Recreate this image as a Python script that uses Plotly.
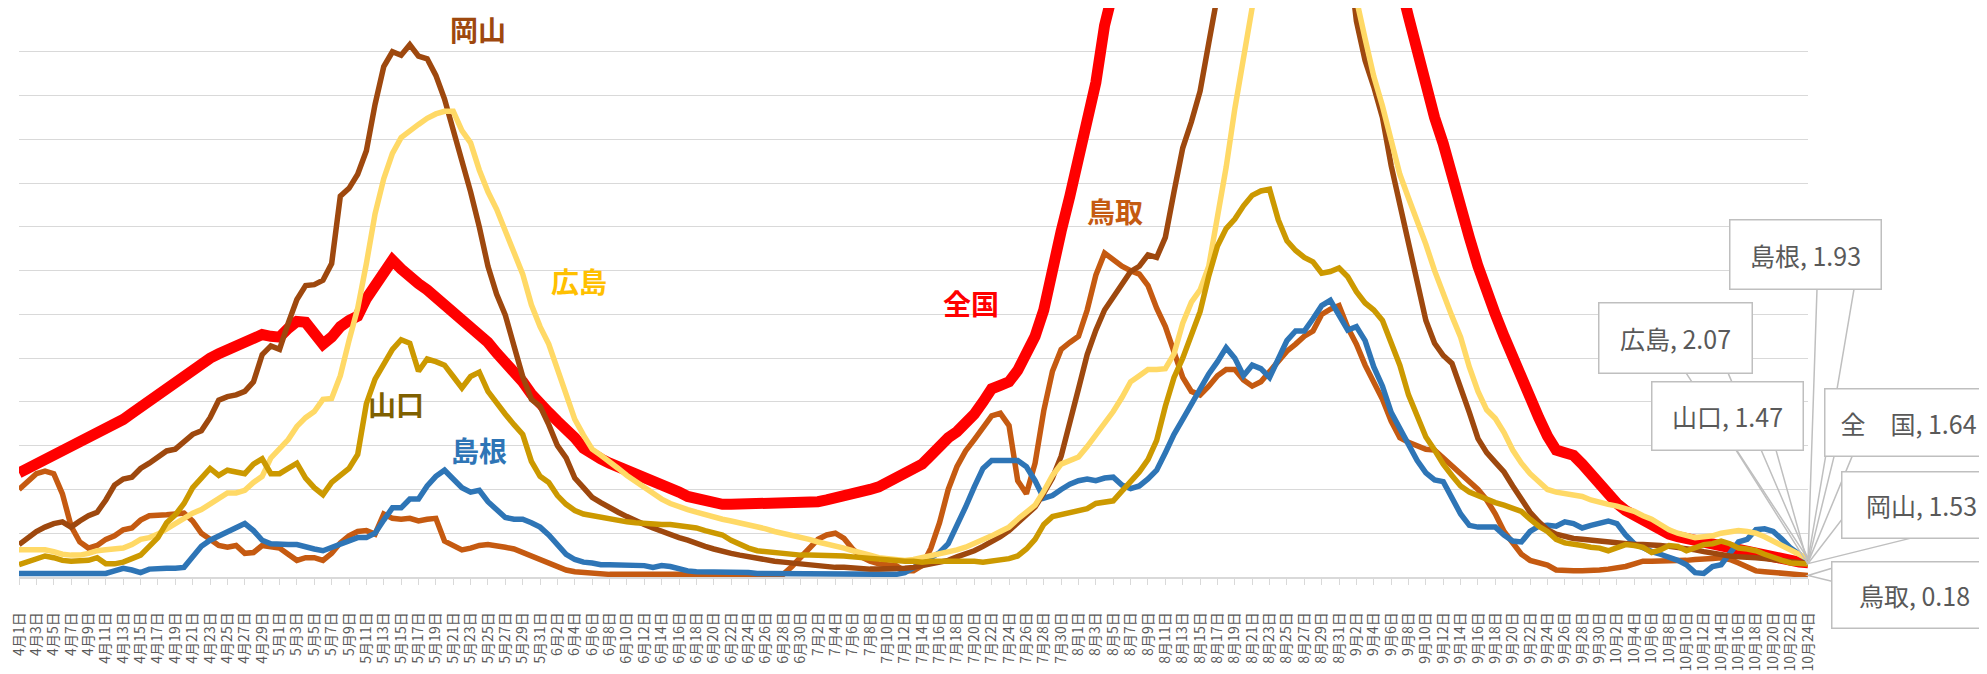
import plotly.graph_objects as go

MONTHS = [(4, 30), (5, 31), (6, 30), (7, 31), (8, 31), (9, 30), (10, 24)]
dates = [f"{m}月{d}日" for m, n in MONTHS for d in range(1, n + 1)]
tick_labels = dates[::2]

zenkoku = [11.9, 12.4, 12.9, 13.5, 13.9, 14.3, 14.8, 15.2, 15.8, 16.5,
           17.0, 17.4, 18.0, 18.7, 19.4, 20.1, 20.9, 21.7, 22.5, 23.1,
           23.8, 24.5, 25.0, 25.5, 26.0, 26.5, 27.0, 27.3, 27.7, 27.5,
           27.4, 28.4, 29.2, 29.1, 28.0, 26.6, 27.4, 28.6, 29.3, 29.8,
           31.8, 33.3, 35.0, 36.2, 35.2, 34.2, 33.5, 32.8, 32.0, 31.1,
           30.1, 29.3, 28.5, 27.6, 26.8, 25.6, 24.6, 23.5, 22.3, 20.9,
           19.7, 18.8, 17.8, 17.0, 15.9, 14.7, 13.9, 13.5, 13.0, 12.6,
           12.2, 11.9, 11.6, 11.1, 10.6, 10.1, 9.7, 9.2, 8.9, 8.6,
           8.4, 8.3, 8.3, 8.3, 8.3, 8.3, 8.3, 8.3, 8.3, 8.4,
           8.4, 8.5, 8.6, 8.8, 9.0, 9.1, 9.3, 9.6, 10.0, 10.3,
           10.8, 11.2, 11.7, 12.3, 12.9, 13.9, 15.0, 15.9, 16.6, 17.4,
           18.6, 20.0, 21.5, 21.9, 22.3, 23.6, 25.5, 27.5, 30.5, 35.5,
           39.5, 43.5, 47.8, 51.5, 56.5, 63.0, 68, 72, 76, 80,
           84, 88, 92, 96, 100, 104, 108, 112, 116, 120,
           123, 126, 129, 131, 133, 134, 134, 133, 131, 128,
           124, 119, 113, 107, 100, 93, 86, 79, 73, 68,
           64.0, 60.0, 56.0, 52.5, 49.5, 45.5, 42.0, 38.8, 35.5, 32.5,
           30.0, 27.5, 25.0, 22.6, 20.3, 18.2, 16.1, 14.5, 14.2, 13.9,
           12.9, 11.7, 10.5, 9.3, 8.4, 7.6, 7.0, 6.4, 5.8, 5.3,
           4.9, 4.6, 4.4, 4.1, 3.8, 3.6, 3.3, 3.1, 2.9, 2.7,
           2.5, 2.3, 2.1, 2.0, 1.8, 1.7, 1.64]

okayama = [3.7, 4.5, 5.2, 5.7, 6.1, 6.3, 5.7, 6.4, 7.0, 7.4,
           8.8, 10.5, 11.2, 11.4, 12.4, 13.0, 13.7, 14.4, 14.6, 15.5,
           16.3, 16.7, 18.2, 20.2, 20.6, 20.8, 21.2, 22.3, 25.4, 26.4,
           26.0, 29.0, 31.7, 33.3, 33.4, 33.9, 35.8, 43.5, 44.4, 46.0,
           48.7, 54.0, 58.3, 60.0, 59.6, 60.8, 59.5, 59.2, 57.3, 54.6,
           51.2, 47.4, 44.0, 40.0, 35.5, 32.3, 29.9, 26.4, 22.9, 20.3,
           19.5, 17.4, 15.0, 13.6, 11.3, 10.2, 9.1, 8.5, 7.9, 7.4,
           6.9, 6.4, 6.0, 5.6, 5.2, 4.8, 4.5, 4.2, 3.8, 3.5,
           3.2, 2.9, 2.7, 2.5, 2.3, 2.1, 1.9, 1.8, 1.7, 1.6,
           1.5, 1.4, 1.2, 1.2, 1.1, 1.1, 1.0, 0.9, 0.9, 0.9,
           0.9, 0.9, 1.0, 1.1, 1.3, 1.5, 1.7, 1.9, 2.3, 2.6,
           3.0, 3.5, 4.0, 4.6, 5.3, 6.2, 7.0, 8.0, 9.6, 11.3,
           13.8, 17.4, 21.5, 25.4, 28.2, 30.5, 32.0, 33.6, 34.9, 35.5,
           36.8, 36.5, 38.8, 44.0, 49.0, 52.0, 55.5, 61.0, 67, 72,
           78, 84, 90, 96, 101, 106, 110, 112, 113, 111,
           105, 95, 84, 72, 63.5, 59.0, 56.0, 52.5, 47.0, 42.5,
           38.0, 33.5, 29.3, 26.7, 25.3, 24.4, 21.8, 18.8, 15.8, 14.2,
           13.1, 12.0, 10.4, 9.0, 7.4, 6.3, 5.4, 4.9, 4.6, 4.4,
           4.3, 4.2, 4.0, 3.9, 3.8, 3.7, 3.7, 3.7, 3.7, 3.6,
           3.5, 3.4, 3.3, 3.1, 2.9, 2.7, 2.5, 2.4, 2.3, 2.3,
           2.2, 2.1, 2.0, 1.9, 1.8, 1.7, 1.53]

hiroshima = [3.1, 3.1, 3.1, 3.1, 2.9, 2.6, 2.5, 2.5, 2.7, 3.0,
             3.1, 3.2, 3.3, 3.7, 4.3, 4.5, 4.9, 5.5, 6.1, 6.7,
             7.3, 7.7, 8.3, 9.0, 9.6, 9.6, 9.9, 10.8, 11.5, 13.6,
             14.6, 15.7, 17.2, 18.2, 18.9, 20.3, 20.4, 23.0, 27.0, 30.7,
             35.8, 41.5, 45.5, 48.4, 50.2, 51.0, 51.7, 52.4, 52.9, 53.2,
             53.2, 51.0, 49.6, 46.5, 44.0, 42.0, 39.5, 36.9, 34.6, 31.1,
             28.6, 26.6, 23.7, 20.8, 18.0, 16.2, 14.6, 13.9, 13.2, 12.4,
             11.6, 10.9, 10.2, 9.5, 8.9, 8.4, 8.0, 7.7, 7.4, 7.1,
             6.9, 6.6, 6.4, 6.2, 5.9, 5.7, 5.5, 5.2, 5.0, 4.8,
             4.5, 4.3, 4.0, 3.8, 3.5, 3.3, 3.0, 2.8, 2.5, 2.2,
             2.1, 2.0, 1.9, 2.0, 2.2, 2.4, 2.6, 2.8, 3.1, 3.4,
             3.8, 4.2, 4.7, 5.2, 5.7, 6.6, 7.4, 8.2, 9.8, 11.6,
             12.9, 13.3, 13.7, 14.9, 16.2, 17.5, 18.9, 20.5, 22.3, 23.0,
             23.7, 23.7, 23.8, 25.5, 29.0, 31.4, 32.8, 35.5, 40.8, 46.8,
             53.5, 60.0, 67, 72, 78, 84, 90, 94, 97, 98,
             96, 90, 82, 74, 66, 61.5, 57.2, 53.8, 49.6, 46.0,
             43.3, 40.8, 38.0, 35.0, 32.2, 29.8, 27.4, 24.0, 21.2, 19.1,
             18.1, 16.5, 14.5, 13.0, 11.8, 10.8, 10.0, 9.7, 9.5, 9.4,
             9.2, 8.8, 8.5, 8.3, 8.1, 7.8, 7.5, 7.0, 6.6, 6.0,
             5.4, 5.0, 4.7, 4.5, 4.6, 4.7, 5.0, 5.2, 5.3, 5.2,
             5.0, 4.6, 4.1, 3.6, 3.0, 2.5, 2.07]

yamaguchi = [1.4, 1.7, 2.1, 2.4, 2.2, 1.9, 1.8, 1.8, 1.9, 2.2,
             1.5, 1.5, 1.7, 2.1, 2.5, 3.5, 4.5, 6.2, 7.1, 8.4,
             10.2, 11.3, 12.4, 11.6, 12.2, 12.0, 11.8, 12.9, 13.5, 11.8,
             11.8, 12.4, 13.0, 11.3, 10.2, 9.4, 10.8, 11.6, 12.4, 14.0,
             19.8, 22.6, 24.2, 26.0, 27.1, 26.7, 23.5, 24.9, 24.6, 24.2,
             22.9, 21.6, 22.9, 23.4, 21.2, 19.8, 18.6, 17.4, 16.3, 13.2,
             11.5, 10.8, 9.3, 8.3, 7.6, 7.2, 7.0, 6.8, 6.6, 6.4,
             6.3, 6.2, 6.1, 6.1, 6.0, 6.0, 5.9, 5.8, 5.6, 5.3,
             5.1, 4.8, 4.2, 3.7, 3.3, 3.0, 2.9, 2.7, 2.6, 2.5,
             2.5, 2.5, 2.5, 2.4, 2.4, 2.4, 2.3, 2.2, 2.1, 2.0,
             1.9, 1.8, 1.8, 1.8, 1.7, 1.8, 1.8, 1.8, 1.9, 1.8,
             1.8, 1.7, 1.8, 2.0, 2.1, 2.4, 3.2, 4.3, 6.0, 6.9,
             7.1, 7.3, 7.5, 7.8, 8.4, 8.6, 8.7, 9.8, 10.8, 12.0,
             13.4, 15.6, 19.5, 22.8, 25.0, 27.8, 30.3, 34.4, 37.8, 39.8,
             40.9, 42.4, 43.6, 44.1, 44.3, 40.8, 38.4, 37.3, 36.5, 36.0,
             34.7, 34.9, 35.3, 34.3, 32.6, 31.3, 30.5, 29.3, 26.9, 24.2,
             20.8, 18.2, 16.0, 14.5, 12.9, 11.6, 10.4, 9.7, 9.3, 8.8,
             8.5, 8.2, 7.9, 7.5, 6.6, 5.8, 5.2, 4.3, 3.9, 3.8,
             3.6, 3.4, 3.3, 3.0, 3.4, 3.7, 3.6, 3.4, 2.8, 3.1,
             3.6, 3.5, 3.0, 3.3, 3.7, 3.8, 4.1, 3.8, 3.3, 3.2,
             3.0, 2.6, 2.2, 1.9, 1.6, 1.5, 1.47]

shimane = [0.4, 0.4, 0.4, 0.4, 0.4, 0.4, 0.4, 0.4, 0.4, 0.4,
           0.4, 0.7, 1.0, 0.8, 0.5, 0.9, 1.0, 1.0, 1.0, 1.1,
           2.3, 3.5, 4.2, 4.7, 5.2, 5.7, 6.1, 5.3, 4.2, 3.8,
           3.7, 3.7, 3.7, 3.4, 3.2, 3.0, 3.4, 3.8, 4.1, 4.5,
           4.5, 5.0, 6.5, 7.9, 7.9, 8.9, 8.9, 10.4, 11.5, 12.2,
           11.2, 10.2, 9.7, 9.9, 8.6, 7.6, 6.8, 6.6, 6.6, 6.2,
           5.7, 4.8, 3.7, 2.6, 2.0, 1.7, 1.6, 1.4, 1.4, 1.4,
           1.4, 1.4, 1.3, 1.1, 1.3, 1.2, 0.9, 0.7, 0.6, 0.6,
           0.6, 0.5, 0.5, 0.6, 0.5, 0.4, 0.4, 0.3, 0.3, 0.3,
           0.3, 0.3, 0.3, 0.3, 0.3, 0.3, 0.3, 0.3, 0.3, 0.3,
           0.3, 0.3, 0.5, 1.0, 1.6, 2.2, 2.8, 3.8, 5.8, 8.0,
           10.3, 12.4, 13.3, 13.3, 13.3, 13.3, 12.6, 11.0, 9.0, 9.3,
           10.0, 10.6, 11.0, 11.2, 11.0, 11.3, 11.4, 10.5, 10.1, 10.4,
           11.2, 12.2, 14.2, 16.3, 18.0, 19.8, 21.6, 23.2, 24.6, 26.2,
           25.0, 23.0, 24.2, 23.8, 22.8, 25.0, 27.0, 28.1, 28.1, 29.5,
           31.0, 31.6, 29.8, 28.2, 28.6, 27.0, 24.0, 21.8, 18.8, 16.9,
           15.1, 13.3, 11.9, 11.1, 10.9, 9.0, 7.2, 5.9, 5.7, 5.7,
           5.7, 4.8, 4.1, 4.0, 5.2, 5.8, 5.9, 5.8, 6.3, 6.1,
           5.6, 5.9, 6.2, 6.4, 6.1, 4.8, 3.8, 3.3, 2.9, 2.6,
           2.3, 1.9, 1.4, 0.5, 0.4, 1.2, 1.4, 2.6, 4.0, 4.3,
           5.4, 5.5, 5.2, 4.3, 3.3, 2.6, 1.93]

tottori = [10.0, 11.0, 11.8, 12.1, 11.8, 9.5, 5.8, 4.0, 3.3, 3.6,
           4.3, 4.7, 5.4, 5.6, 6.5, 7.0, 7.0, 7.1, 7.2, 7.3,
           6.4, 5.0, 4.3, 3.6, 3.4, 3.6, 2.7, 2.8, 3.6, 3.5,
           3.3, 2.6, 1.9, 2.2, 2.2, 1.9, 2.7, 3.9, 4.7, 5.2,
           5.3, 4.9, 7.2, 6.7, 6.6, 6.7, 6.4, 6.6, 6.7, 4.1,
           3.6, 3.1, 3.3, 3.6, 3.7, 3.6, 3.4, 3.2, 2.8, 2.4,
           2.0, 1.5, 1.1, 0.8, 0.6, 0.5, 0.4, 0.3, 0.3, 0.3,
           0.3, 0.3, 0.3, 0.3, 0.3, 0.3, 0.3, 0.3, 0.3, 0.3,
           0.3, 0.3, 0.3, 0.3, 0.3, 0.3, 0.3, 0.3, 0.3, 1.2,
           2.3, 3.4, 4.3, 4.8, 5.0, 4.4, 3.2, 2.3, 1.8, 1.5,
           1.4, 1.3, 0.7, 0.7, 1.3, 3.3, 6.2, 10.0, 12.6, 14.4,
           15.7, 17.1, 18.4, 18.7, 17.3, 11.0, 9.5, 13.0, 19.0, 23.5,
           26.0, 26.8, 27.5, 30.5, 34.5, 37.0, 36.2, 35.5, 35.0, 34.6,
           33.3, 30.7, 28.6, 25.5, 22.8, 21.2, 20.8, 21.8, 23.0, 23.7,
           23.7, 22.5, 21.8, 22.3, 23.5, 24.8, 25.8, 26.6, 27.5, 28.1,
           30.0, 30.6, 31.0, 28.5, 26.6, 24.2, 22.3, 20.3, 17.8, 15.9,
           15.4, 15.0, 14.6, 14.5, 13.6, 12.9, 11.9, 10.9, 10.0, 8.8,
           7.2, 5.2, 3.8, 2.6, 1.9, 1.6, 1.35, 0.8, 0.7, 0.7,
           0.7, 0.7, 0.8, 0.9, 1.0, 1.2, 1.5, 1.8, 1.8, 1.8,
           1.9, 1.9, 1.9, 2.0, 2.0, 2.1, 2.2, 2.0, 1.6, 1.1,
           0.7, 0.6, 0.5, 0.5, 0.45, 0.3, 0.18]

Y_MAX = 65

# drawing order: first drawn is lowest
series = [
    ("全　国", zenkoku, "#FF0000", 11),
    ("鳥取", tottori, "#C55A11", 5.5),
    ("島根", shimane, "#2E75B6", 5.5),
    ("岡山", okayama, "#9E480E", 5.5),
    ("広島", hiroshima, "#FFD966", 5.5),
    ("山口", yamaguchi, "#CC9900", 5.5),
]

FONT = "Noto Sans CJK JP"
fig = go.Figure()
for name, vals, color, w in series:
    fig.add_trace(go.Scatter(x=dates, y=vals, mode="lines", name=name,
                             line=dict(color=color, width=w),
                             hoverinfo="skip"))

# in-chart series labels (paper coordinates)
labels = [
    ("岡山", 0.2566, 0.963, "#9E480E"),
    ("広島", 0.3129, 0.5202, "#FFC000"),
    ("全国", 0.5321, 0.4815, "#FF0000"),
    ("鳥取", 0.6124, 0.6432, "#C55A11"),
    ("山口", 0.2109, 0.3040, "#7F6000"),
    ("島根", 0.2571, 0.2232, "#2E75B6"),
]
for txt, px, py, col in labels:
    fig.add_annotation(text=txt, x=px, y=py, xref="paper", yref="paper",
                       showarrow=False, xanchor="center", yanchor="middle",
                       font=dict(family=FONT, size=28, color=col, weight=700))

# data callouts at the last point: box shift (px), box size, wedge base points (px offsets, y up)
last = len(dates) - 1
callouts = [
    ("島根", shimane, -3, 306, 150, 68, [(9, 271), (46, 271)]),
    ("広島", hiroshima, -133, 221, 152, 69, [(-122, 186), (-80, 186)]),
    ("山口", yamaguchi, -81, 148, 150, 67, [(-72, 114), (-32, 114)]),
    ("全　国", zenkoku, 100, 140, 166, 66, [(26, 106), (44, 106)]),
    ("岡山", okayama, 113, 59, 158, 65, [(43, 56), (105, 26)]),
    ("鳥取", tottori, 106, -20, 164, 65, [(33, 10), (33, -8)]),
]
for name, vals, xs, ys, w, h, wedge in callouts:
    (x1, y1), (x2, y2) = wedge
    # pointer wedge, anchored at the series' last value (paper y = value / Y_MAX)
    fig.add_shape(type="path", xref="paper", yref="paper",
                  xsizemode="pixel", ysizemode="pixel",
                  xanchor=1.0, yanchor=vals[-1] / Y_MAX,
                  path=f"M {x1},{y1} L 0,0 L {x2},{y2}",
                  line=dict(color="#BFBFBF", width=1.5), layer="above")
    fig.add_annotation(x=last, y=vals[-1], xref="x", yref="y",
                       text=f"{name}, {vals[-1]:.2f}",
                       showarrow=False, xshift=xs, yshift=ys,
                       xanchor="center", yanchor="middle",
                       bordercolor="#BFBFBF", borderwidth=1.5, borderpad=0,
                       bgcolor="white", width=w, height=h,
                       font=dict(family=FONT, size=25, color="#595959"))

fig.update_layout(
    width=1987, height=674,
    margin=dict(l=7, r=187, t=0, b=105),
    paper_bgcolor="white", plot_bgcolor="white",
    showlegend=False,
    font=dict(family=FONT, color="#595959"),
)
fig.update_xaxes(type="category", categoryorder="array", categoryarray=dates,
                 range=[0, last],
                 tickmode="array", tickvals=tick_labels, ticktext=tick_labels,
                 tickangle=-90, ticks="outside", ticklen=6, tickwidth=1.2,
                 tickcolor="#D9D9D9", showline=True, linecolor="#D9D9D9",
                 linewidth=1.5, showgrid=False, zeroline=False,
                 ticklabelstandoff=22,
                 tickfont=dict(family=FONT, size=14, color="#595959"))
fig.update_yaxes(range=[0, Y_MAX], dtick=5, showgrid=True, gridcolor="#D9D9D9",
                 gridwidth=1.4, showticklabels=False, zeroline=False,
                 showline=False, ticks="")

fig.write_html("out.html")
